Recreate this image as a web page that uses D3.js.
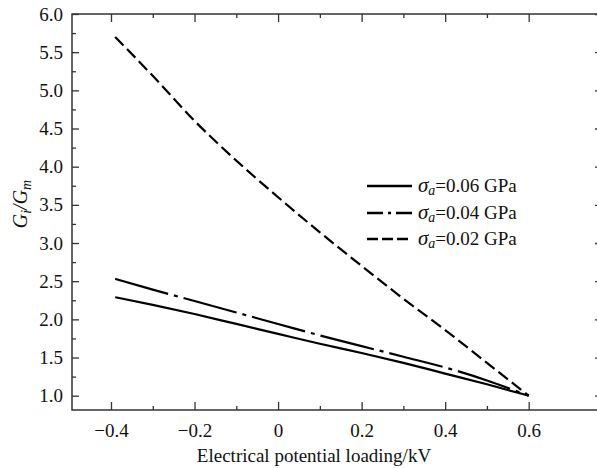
<!DOCTYPE html>
<html>
<head>
<meta charset="utf-8">
<script src="https://cdn.jsdelivr.net/npm/d3@7"></script>
<style>
  html, body { margin: 0; padding: 0; background: #fff; }
  svg { display: block; }
</style>
</head>
<body>
<svg id="chart" width="597" height="468"></svg>
<script>
// Electrical potential loading (kV)
const potential = [-0.39, -0.3, -0.2, -0.1, 0, 0.1, 0.2, 0.3, 0.4, 0.5, 0.6];

// Gi/Gm for each applied stress level
const ratio006 = [2.29, 2.19, 2.07, 1.94, 1.81, 1.68, 1.56, 1.43, 1.29, 1.15, 1.00];
const ratio004 = [2.53, 2.39, 2.24, 2.09, 1.94, 1.79, 1.65, 1.51, 1.37, 1.20, 1.00];
const ratio002 = [5.70, 5.19, 4.60, 4.08, 3.60, 3.14, 2.70, 2.27, 1.86, 1.43, 1.00];

const seriesNames = ["0.06", "0.04", "0.02"];

const xTicks = [-0.4, -0.2, 0, 0.2, 0.4, 0.6];
const xMinorTicks = [-0.3, -0.1, 0.1, 0.3, 0.5];
const yTicks = [1.0, 1.5, 2.0, 2.5, 3.0, 3.5, 4.0, 4.5, 5.0, 5.5, 6.0];
const yMinorTicks = [1.25, 1.75, 2.25, 2.75, 3.25, 3.75, 4.25, 4.75, 5.25, 5.75];

const FONT = "'Liberation Serif', 'Times New Roman', 'DejaVu Serif', serif";

const svg = d3.select("#chart");

const frame = { left: 72, right: 602, top: 14, bottom: 410 };

const x = d3.scaleLinear().domain([-0.4, 0.6]).range([111, 528.7]);
const y = d3.scaleLinear().domain([1, 6]).range([395.7, 14]);

const axisColor = "#333";

// frame
svg.append("rect")
  .attr("x", frame.left).attr("y", frame.top)
  .attr("width", frame.right - frame.left)
  .attr("height", frame.bottom - frame.top)
  .attr("fill", "none").attr("stroke", axisColor).attr("stroke-width", 1.5);

const fmtX = d => d === 0 ? "0" : d3.format(".1f")(d).replace("-", "\u2212");

function styleTicks(g) {
  g.attr("font-family", null);
  g.select(".domain").remove();
  g.selectAll("line").attr("stroke", axisColor).attr("stroke-width", 1.3);
  g.selectAll("text").attr("font-size", null)
    .style("font-family", FONT).style("font-size", "19px").attr("fill", "#111");
  return g;
}

// bottom axis (ticks pointing inward)
styleTicks(svg.append("g").attr("transform", `translate(0,${frame.bottom})`)
  .call(d3.axisBottom(x).tickValues(xTicks).tickSizeInner(-8).tickSizeOuter(0)
    .tickPadding(14).tickFormat(fmtX)));
styleTicks(svg.append("g").attr("transform", `translate(0,${frame.bottom})`)
  .call(d3.axisBottom(x).tickValues(xMinorTicks).tickSizeInner(-4).tickSizeOuter(0).tickFormat("")));

// top axis ticks
styleTicks(svg.append("g").attr("transform", `translate(0,${frame.top})`)
  .call(d3.axisTop(x).tickValues(xTicks).tickSizeInner(-8).tickSizeOuter(0).tickFormat("")));
styleTicks(svg.append("g").attr("transform", `translate(0,${frame.top})`)
  .call(d3.axisTop(x).tickValues(xMinorTicks).tickSizeInner(-4).tickSizeOuter(0).tickFormat("")));

// left axis
styleTicks(svg.append("g").attr("transform", `translate(${frame.left},0)`)
  .call(d3.axisLeft(y).tickValues(yTicks).tickSizeInner(-7).tickSizeOuter(0)
    .tickPadding(9).tickFormat(d3.format(".1f"))));
styleTicks(svg.append("g").attr("transform", `translate(${frame.left},0)`)
  .call(d3.axisLeft(y).tickValues(yMinorTicks).tickSizeInner(-4).tickSizeOuter(0).tickFormat("")));

// right axis ticks
styleTicks(svg.append("g").attr("transform", `translate(${frame.right},0)`)
  .call(d3.axisRight(y).tickValues(yTicks).tickSizeInner(-7).tickSizeOuter(0).tickFormat("")));

// curves
const line = d3.line().x((d, i) => x(potential[i])).y(d => y(d)).curve(d3.curveMonotoneX);
const styles = [
  { data: ratio006, dash: null, legendDash: null },
  { data: ratio004, dash: "55,6,4,6", legendDash: "16,5,3,5" },
  { data: ratio002, dash: "12,5", legendDash: "11,4" }
];

styles.forEach(s => {
  svg.append("path")
    .datum(s.data)
    .attr("d", line)
    .attr("fill", "none")
    .attr("stroke", "#000")
    .attr("stroke-width", 2.2)
    .attr("stroke-dasharray", s.dash);
});

// legend
const legend = svg.append("g");
const rowY = [186, 213, 239];
styles.forEach((s, i) => {
  legend.append("line")
    .attr("x1", 367).attr("x2", 412)
    .attr("y1", rowY[i]).attr("y2", rowY[i])
    .attr("stroke", "#000").attr("stroke-width", 2.3)
    .attr("stroke-dasharray", s.legendDash);
  const t = legend.append("text")
    .attr("x", 418).attr("y", rowY[i] + 6)
    .style("font-family", FONT).style("font-size", "19px").attr("fill", "#111");
  t.append("tspan").style("font-style", "italic").style("font-size", "21px").text("\u03C3");
  t.append("tspan").style("font-style", "italic").style("font-size", "14px").attr("dy", 3).text("a");
  t.append("tspan").attr("dy", -3).text("=" + seriesNames[i] + " GPa");
});

// axis titles
svg.append("text")
  .attr("x", 314).attr("y", 462)
  .attr("text-anchor", "middle")
  .style("font-family", FONT).style("font-size", "19px").attr("fill", "#111")
  .text("Electrical potential loading/kV");

const yl = svg.append("text")
  .attr("transform", "translate(27,204) rotate(-90)")
  .attr("text-anchor", "middle")
  .style("font-family", FONT).style("font-size", "20px").style("font-style", "italic")
  .attr("fill", "#111");
yl.append("tspan").text("G");
yl.append("tspan").style("font-size", "14px").attr("dy", 4).text("i");
yl.append("tspan").attr("dy", -4).text("/G");
yl.append("tspan").style("font-size", "14px").attr("dy", 4).text("m");
</script>
</body>
</html>
